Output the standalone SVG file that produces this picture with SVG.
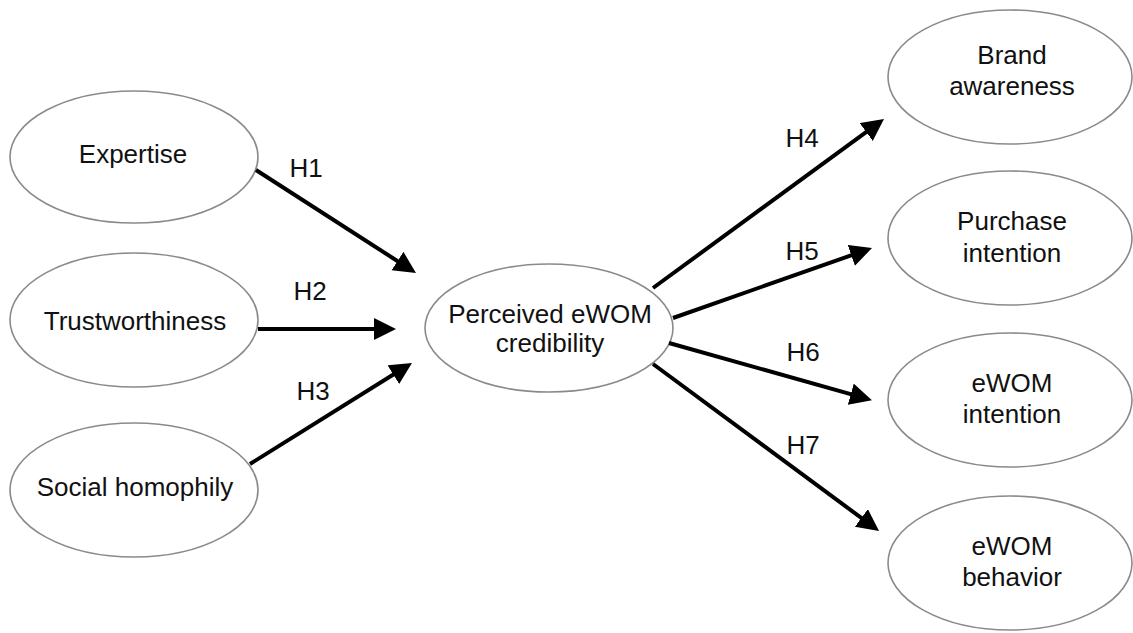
<svg xmlns="http://www.w3.org/2000/svg" width="1133" height="633" viewBox="0 0 1133 633">
<style>
.node ellipse{fill:#fff;stroke:#8a8a8a;stroke-width:1.6}
text{font-family:"Liberation Sans",Arial,sans-serif;font-size:26px;fill:#111;text-anchor:middle}
.edge{stroke:#000;stroke-width:4;fill:none;marker-end:url(#ah)}
</style>
<defs>
<marker id="ah" markerUnits="userSpaceOnUse" markerWidth="24" markerHeight="24" refX="10" refY="11" orient="auto" viewBox="0 0 24 24">
<path d="M0,0 L22,11 L0,22 Z" fill="#000"/>
</marker>
</defs>
<rect width="1133" height="633" fill="#fff"/>
<g id="n-expertise" class="node"><ellipse cx="134" cy="157" rx="124" ry="66"/><text x="133" y="163">Expertise</text></g>
<g id="n-trust" class="node"><ellipse cx="134" cy="320" rx="124" ry="67"/><text x="135" y="330">Trustworthiness</text></g>
<g id="n-social" class="node"><ellipse cx="134" cy="490" rx="124" ry="67"/><text x="135" y="496">Social homophily</text></g>
<g id="n-center" class="node"><ellipse cx="549" cy="328" rx="124" ry="64"/><text x="550" y="323">Perceived eWOM</text><text x="550" y="352">credibility</text></g>
<g id="n-brand" class="node"><ellipse cx="1010" cy="77" rx="122" ry="67"/><text x="1012" y="64">Brand</text><text x="1012" y="95">awareness</text></g>
<g id="n-purchase" class="node"><ellipse cx="1010" cy="238" rx="122" ry="67"/><text x="1012" y="230">Purchase</text><text x="1012" y="262">intention</text></g>
<g id="n-ewomint" class="node"><ellipse cx="1010" cy="400" rx="122" ry="67"/><text x="1012" y="392">eWOM</text><text x="1012" y="423">intention</text></g>
<g id="n-ewombeh" class="node"><ellipse cx="1010" cy="563" rx="122" ry="67"/><text x="1012" y="555">eWOM</text><text x="1012" y="586">behavior</text></g>
<g id="connectors">
<line class="edge" x1="256" y1="170" x2="405.9" y2="266.5"/>
<line class="edge" x1="258" y1="329" x2="384" y2="329"/>
<line class="edge" x1="250" y1="464" x2="401.8" y2="369.3"/>
<line class="edge" x1="653" y1="288" x2="874.3" y2="126.1"/>
<line class="edge" x1="673" y1="318" x2="860.7" y2="252"/>
<line class="edge" x1="669" y1="343" x2="860.4" y2="396.9"/>
<line class="edge" x1="653" y1="364" x2="869.4" y2="523.9"/>
<text x="306" y="177">H1</text>
<text x="310" y="300">H2</text>
<text x="313" y="400">H3</text>
<text x="802" y="147">H4</text>
<text x="802" y="260">H5</text>
<text x="803" y="361">H6</text>
<text x="803" y="454">H7</text>
</g>
</svg>
